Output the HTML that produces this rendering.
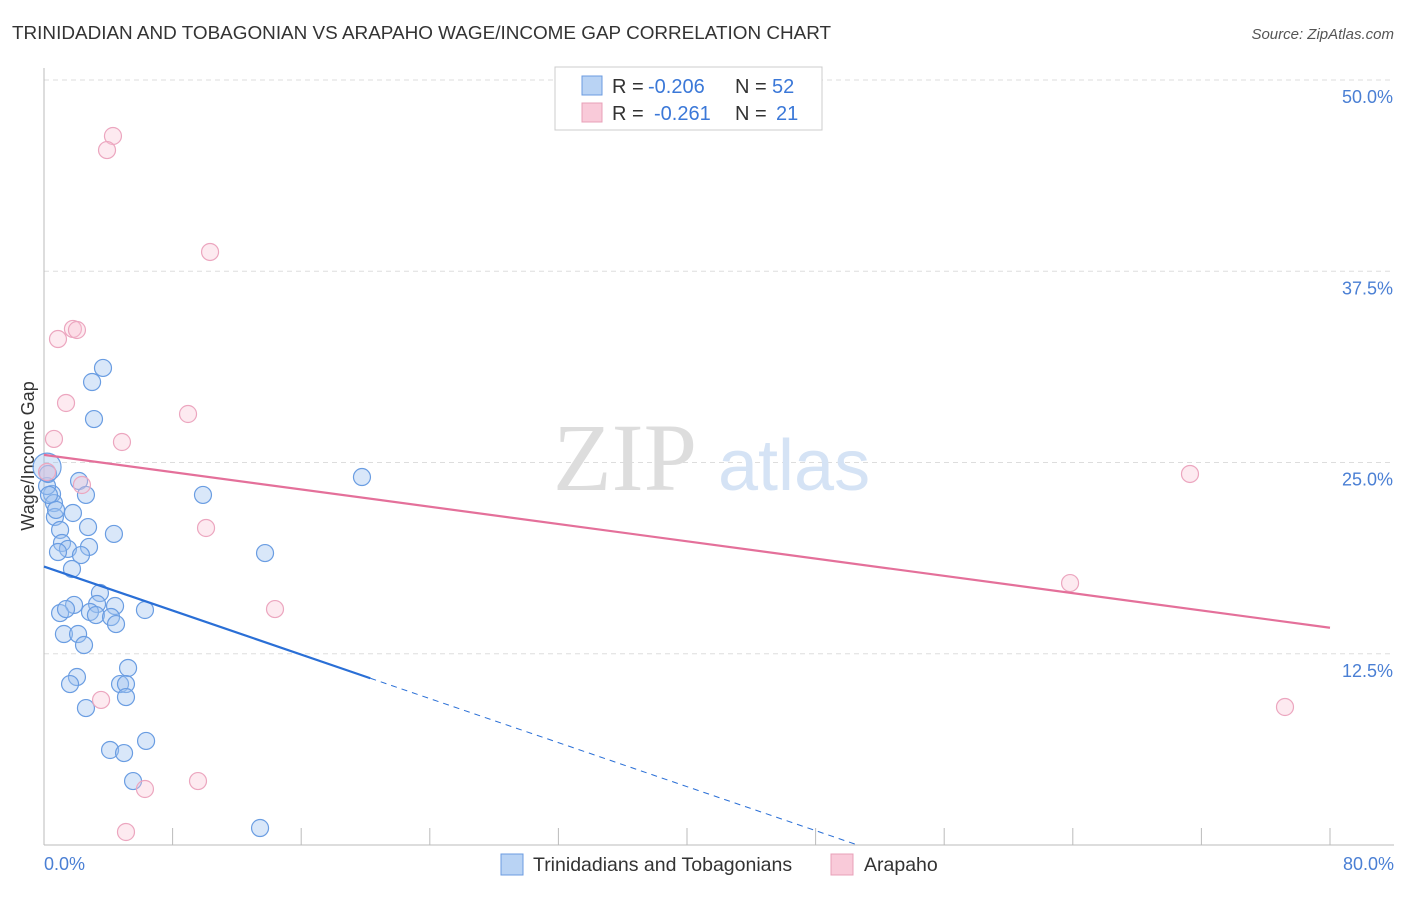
<!DOCTYPE html>
<html><head><meta charset="utf-8"><style>
body{margin:0;background:#fff;font-family:"Liberation Sans",sans-serif}
</style></head><body>
<svg width="1406" height="892" xmlns="http://www.w3.org/2000/svg">
<text x="12" y="39" font-size="18.9" fill="#333">TRINIDADIAN AND TOBAGONIAN VS ARAPAHO WAGE/INCOME GAP CORRELATION CHART</text>
<text x="1394" y="39" font-size="15" fill="#555" text-anchor="end" font-style="italic">Source: ZipAtlas.com</text>
<g id="grid"></g>
<text x="553" y="490" font-size="96" fill="#ddd" font-family="Liberation Serif">ZIP</text>
<text x="718" y="490" font-size="72" fill="#d5e3f5">atlas</text>
<line x1="44" y1="68" x2="44" y2="845" stroke="#bbb"/>
<line x1="44" y1="845" x2="1394" y2="845" stroke="#bbb"/>
<text x="34" y="456" font-size="18" fill="#333" transform="rotate(-90 34 456)" text-anchor="middle">Wage/Income Gap</text>
<text x="44" y="870" font-size="18" fill="#4a7fd4">0.0%</text>
<text x="1394" y="870" font-size="18" fill="#4a7fd4" text-anchor="end">80.0%</text>
<g id="marks"></g>
<g>
<rect x="555" y="67" width="267" height="63" fill="#fff" stroke="#ccc"/>
<rect x="582" y="76" width="20" height="19" fill="#b9d3f4" stroke="#6b9be0"/>
<rect x="582" y="103" width="20" height="19" fill="#f9cad9" stroke="#e8a0b8"/>
<text x="612" y="93" font-size="20" fill="#333">R =</text>
<text x="648" y="93" font-size="20" fill="#3b78d8">-0.206</text>
<text x="735" y="93" font-size="20" fill="#333">N =</text>
<text x="772" y="93" font-size="20" fill="#3b78d8">52</text>
<text x="612" y="120" font-size="20" fill="#333">R =</text>
<text x="654" y="120" font-size="20" fill="#3b78d8">-0.261</text>
<text x="735" y="120" font-size="20" fill="#333">N =</text>
<text x="776" y="120" font-size="20" fill="#3b78d8">21</text>
</g>
<g>
<rect x="501" y="854" width="22" height="21" fill="#b9d3f4" stroke="#6b9be0"/>
<text x="533" y="871" font-size="19.5" fill="#333">Trinidadians and Tobagonians</text>
<rect x="831" y="854" width="22" height="21" fill="#f9cad9" stroke="#e8a0b8"/>
<text x="864" y="871" font-size="19.5" fill="#333">Arapaho</text>
</g>
</svg>
<script>
const yTicks=[12.5,25,37.5,50];
const yTickLabels=["12.5%","25.0%","37.5%","50.0%"];
const xTicks=[0,8,16,24,32,40,48,56,64,72,80];
const blueX=[3.67,2.99,3.11,19.78,9.89,2.18,2.61,0.50,0.62,0.68,1.80,1.00,2.74,4.35,1.12,2.80,1.49,0.87,2.30,13.75,1.74,3.48,1.87,1.00,1.37,3.30,4.42,2.86,3.23,4.17,6.28,4.48,1.24,2.12,2.49,5.23,2.05,1.62,4.73,5.10,5.10,2.61,4.11,4.98,6.35,5.54,13.44,0.19,0.25,0.31,0.75,0.19];
const blueY=[31.18,30.26,27.84,24.05,22.88,23.79,22.88,22.94,22.35,21.44,21.70,20.59,20.78,20.33,19.74,19.48,19.35,19.15,18.95,19.08,18.04,16.47,15.69,15.16,15.42,15.75,15.62,15.23,15.03,14.90,15.36,14.44,13.79,13.79,13.07,11.57,10.98,10.52,10.52,10.52,9.67,8.95,6.21,6.01,6.80,4.18,1.11,23.46,24.25,22.88,21.90,24.7];
const pinkX=[4.29,3.92,10.33,1.80,2.05,0.87,1.37,8.96,0.62,4.85,0.19,2.36,10.08,14.37,3.55,9.58,6.28,5.10,71.29,63.83,77.20];
const pinkY=[46.34,45.42,38.76,33.73,33.66,33.07,28.89,28.17,26.54,26.34,24.38,23.53,20.72,15.42,9.48,4.18,3.66,0.85,24.25,17.12,9.02];
const blueTrend=[18.2,10.9];const blueTrendEnd=20.3;
const pinkTrend=[25.5,14.2];
const NS="http://www.w3.org/2000/svg";
const sx=v=>44+v/80*1286, sy=v=>845-v*15.3;
function mk(tag,attrs,parent){const e=document.createElementNS(NS,tag);for(const k in attrs)e.setAttribute(k,attrs[k]);parent.appendChild(e);return e;}
const grid=document.getElementById('grid'), marks=document.getElementById('marks');
yTicks.forEach((t,i)=>{
 const l=mk('line',{x1:44,x2:1394,y1:sy(t),y2:sy(t),stroke:'#ddd','stroke-dasharray':'5,4'},grid);
 
 
 const tx=mk('text',{x:1393,y:sy(t)+23,'font-size':18,fill:'#4a7fd4','text-anchor':'end'},grid);
 tx.textContent=yTickLabels[i];
 
 
});
xTicks.forEach(t=>{
 const l=mk('line',{x1:sx(t),x2:sx(t),y1:828,y2:845,stroke:'#bbb'},grid);
 
 
});
blueX.forEach((x,i)=>{
 const big=i===blueX.length-1;
 const c=mk('circle',{cx:sx(x),cy:sy(blueY[i]),r:big?14:8.5,fill:'rgba(160,196,240,0.4)',stroke:'#6a9de2','stroke-width':1.2},marks);
 
 
});
pinkX.forEach((x,i)=>{
 const c=mk('circle',{cx:sx(x),cy:sy(pinkY[i]),r:8.5,fill:'rgba(248,195,213,0.35)',stroke:'#eca6bf','stroke-width':1.2},marks);
 
 
});
const bSlope=(blueTrend[1]-blueTrend[0])/blueTrendEnd;
const bl=mk('line',{x1:sx(0),y1:sy(blueTrend[0]),x2:sx(blueTrendEnd),y2:sy(blueTrend[1]),stroke:'#2a6fd6','stroke-width':2.2},marks);


const xz=-blueTrend[0]/bSlope;
const bd=mk('line',{x1:sx(blueTrendEnd),y1:sy(blueTrend[1]),x2:sx(xz),y2:sy(0),stroke:'#2a6fd6','stroke-width':1,'stroke-dasharray':'6,5'},marks);


const pl=mk('line',{x1:sx(0),y1:sy(pinkTrend[0]),x2:sx(80),y2:sy(pinkTrend[1]),stroke:'#e4709a','stroke-width':2.2},marks);


</script>
</body></html>
